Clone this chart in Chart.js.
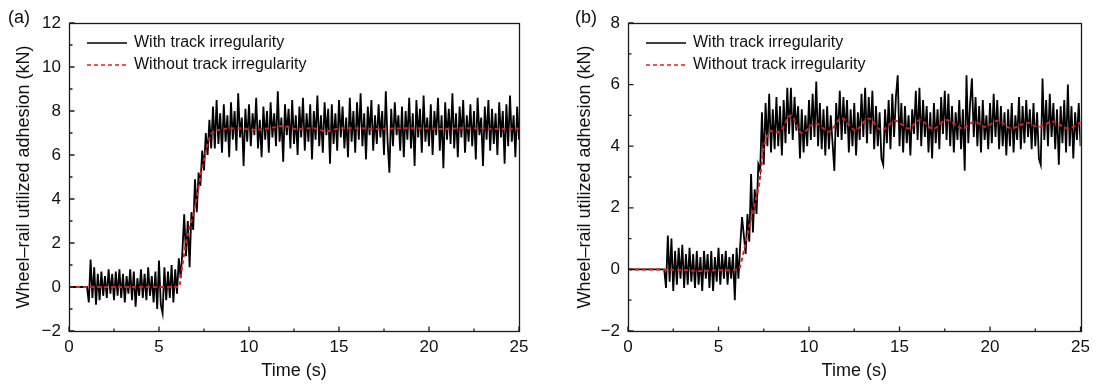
<!DOCTYPE html>
<html>
<head>
<meta charset="utf-8">
<script src="https://cdn.jsdelivr.net/npm/chart.js@4.4.1/dist/chart.umd.min.js"></script>
<style>
  body { margin: 0; background: #fff; }
  .wrap { position: absolute; top: 0; height: 385px; }
</style>
</head>
<body>
<div class="wrap" style="left:0;width:548px"><canvas id="chartA" width="548" height="385"></canvas></div>
<div class="wrap" style="left:559px;width:537px"><canvas id="chartB" width="537" height="385"></canvas></div>
<script>
// sampling step of the measured signals (s)
var tStep = 0.1;
var xTicks = [0, 5, 10, 15, 20, 25];
var seriesLabels = ['With track irregularity', 'Without track irregularity'];

// (a) with track irregularity, one value every 0.1 s from 0 to 25 s
var withIrrA = [
  0, 0, 0, 0, 0, 0, 0, 0, 0, 0, 0,
  -0.7, 1.25, -0.5, 0.9, -0.8, 0.6, -0.6, 0.7, -0.4, 0.5,
  -0.5, 0.8, -0.3, 0.6, -0.6, 0.7, -0.4, 0.8, -0.5, 0.6,
  -0.7, 0.5, -0.3, 0.8, -0.6, 0.7, -0.9, 0.4, -0.4, 0.8,
  -0.5, 0.6, -0.6, 0.9, -0.4, 0.5, -0.7, 0.7, -1.0, 1.2,
  -0.8, -1.2, 0.9, -0.6, 0.7, -0.5, 1.0, -0.7, 0.8, -0.3,
  1.3, 0.4, 1.6, 3.3, 1.4, 3.0, 0.9, 3.4, 2.6, 4.9,
  3.4, 5.2, 4.6, 6.2, 5.3, 7.0, 6.0, 7.6, 6.3, 8.2,
  6.3, 8.5, 6.5, 7.9, 6.1, 8.3, 6.6, 7.8, 5.9, 8.4,
  6.7, 8.0, 6.2, 8.8, 6.8, 7.7, 5.5, 8.1, 6.6, 8.3,
  6.4, 7.9, 6.9, 8.6, 6.3, 7.6, 5.9, 8.2, 6.7, 8.0,
  6.1, 8.4, 6.8, 7.9, 6.4, 8.9, 6.6, 7.7, 5.7, 8.3,
  6.9, 8.1, 6.3, 8.5, 6.5, 7.8, 6.0, 8.2, 6.8, 8.6,
  6.2, 7.9, 6.6, 8.3, 5.8, 8.0, 6.7, 8.7, 6.4, 7.8,
  6.1, 8.4, 6.9, 8.1, 5.6, 8.3, 6.5, 7.9, 6.2, 8.5,
  6.8, 8.2, 6.3, 7.7, 5.9, 8.6, 6.6, 8.0, 6.1, 8.4,
  6.7, 8.8, 6.4, 7.9, 5.8, 8.2, 6.9, 8.5, 6.2, 7.8,
  6.5, 8.3, 6.8, 8.0, 6.0, 8.9, 6.6, 5.2, 8.1, 6.4,
  8.4, 6.9, 7.8, 6.2, 8.2, 5.9, 8.0, 6.7, 8.6, 6.3,
  7.9, 5.5, 8.5, 6.8, 8.1, 6.1, 8.7, 6.6, 7.7, 6.4,
  8.3, 6.0, 8.0, 6.9, 8.6, 6.2, 7.8, 5.4, 8.4, 6.7,
  8.1, 6.5, 8.8, 6.3, 7.9, 5.9, 8.2, 6.8, 8.5, 6.1,
  7.8, 6.6, 8.3, 6.4, 8.0, 5.8, 8.6, 6.9, 7.7, 5.5,
  8.2, 6.7, 8.5, 6.2, 8.1, 6.5, 7.9, 6.0, 8.4, 6.8,
  8.0, 5.6, 8.3, 6.4, 8.7, 6.6, 7.8, 5.9, 8.2, 6.7
];

// (a) without track irregularity
var smoothTimeA = [0, 6.1, 6.3, 6.5, 6.7, 6.9, 7.1, 7.3, 7.5, 7.7, 7.9, 8.1, 8.4, 8.8, 9.5, 10.2, 11.0, 11.9, 12.6, 13.5, 14.3, 15.0, 16.0, 17.0, 18.0, 19.0, 20.0, 21.0, 22.0, 23.0, 24.0, 25.0];
var smoothValA = [0, 0, 1.0, 2.0, 2.7, 3.3, 4.1, 5.0, 5.8, 6.5, 6.95, 7.1, 7.15, 7.2, 7.22, 7.15, 7.2, 7.32, 7.18, 7.22, 7.08, 7.2, 7.22, 7.18, 7.2, 7.22, 7.2, 7.18, 7.22, 7.2, 7.18, 7.2];

// (b) with track irregularity, one value every 0.1 s from 0 to 25 s
var withIrrB = [
  0, 0, 0, 0, 0, 0, 0, 0, 0, 0, 0,
  0, 0, 0, 0, 0, 0, 0, 0, 0, 0,
  -0.6, 1.1, -0.4, 1.0, -0.7, 0.6, -0.5, 0.7, -0.3, 0.8,
  -0.6, 0.5, -0.5, 0.7, -0.4, 0.5, -0.6, 0.6, -0.5, 0.4,
  -0.7, 0.6, -0.3, 0.5, -0.6, 0.6, -0.7, 0.4, -0.4, 0.7,
  -0.5, 0.5, -0.3, 0.6, -0.5, 0.4, -0.3, 0.5, -1.0, 0.7,
  -0.3, 0.8, 1.7, 1.1, 0.5, 1.8, 0.9, 3.1, 1.2, 2.6,
  1.8, 3.4, 3.2, 5.1, 3.4, 5.4, 4.0, 5.7, 3.8, 5.2,
  3.9, 5.6, 4.0, 5.3, 3.7, 5.5, 4.1, 5.9, 4.4, 5.9,
  4.2, 5.6, 4.5, 5.3, 3.6, 5.2, 3.8, 5.0, 4.0, 5.5,
  4.2, 5.7, 4.3, 6.1, 4.0, 5.4, 3.9, 5.2, 3.7, 5.3,
  3.9, 5.0, 4.1, 3.2, 5.4, 4.3, 5.8, 4.2, 5.6, 4.4,
  5.5, 3.8, 5.2, 4.0, 5.4, 3.7, 5.1, 4.2, 5.7, 4.3,
  5.9, 4.1, 5.6, 4.4, 5.8, 3.9, 5.3, 4.0, 5.1, 3.6,
  3.4, 5.2, 4.1, 5.5, 3.9, 5.7, 4.3, 5.6, 6.3, 4.0,
  5.4, 3.8, 5.3, 4.1, 5.0, 3.7, 5.2, 4.4, 5.8, 4.2,
  5.9, 4.0, 5.5, 4.3, 5.3, 3.8, 5.1, 3.6, 5.4, 4.1,
  5.2, 3.9, 5.6, 4.4, 5.8, 4.2, 5.7, 4.0, 5.3, 3.8,
  5.1, 4.2, 5.5, 3.9, 5.2, 3.2, 6.3, 4.1, 5.4, 6.2,
  4.3, 5.6, 4.0, 5.3, 3.8, 5.5, 4.2, 5.0, 3.9, 5.4,
  4.1, 5.7, 4.3, 5.5, 3.9, 5.3, 4.0, 5.1, 3.7, 5.2,
  4.0, 5.4, 3.8, 5.0, 4.2, 5.6, 3.9, 5.3, 4.1, 5.5,
  4.3, 5.2, 3.9, 5.4, 4.0, 5.1, 3.6, 3.4, 6.2, 4.2,
  5.5, 4.0, 5.7, 4.3, 5.4, 3.9, 5.2, 3.4, 5.3, 4.1,
  5.5, 3.8, 6.0, 4.0, 5.3, 3.6, 5.1, 4.2, 5.4, 4.0
];

// (b) without track irregularity
var smoothTimeB = [0, 3.0, 4.0, 5.0, 6.1, 6.4, 6.7, 7.0, 7.25, 7.5, 7.7, 7.9, 8.2, 8.5, 8.98, 9.6, 10.36, 11.09, 11.8, 12.56, 13.29, 14.0, 14.76, 15.49, 16.13, 16.86, 17.59, 18.51, 19.15, 19.7, 20.43, 21.17, 22.09, 22.64, 23.46, 24.29, 25.0];
var smoothValB = [0, -0.02, -0.05, -0.03, 0, 0.6, 1.4, 2.1, 2.8, 3.95, 4.35, 4.5, 4.45, 4.55, 5.0, 4.43, 4.75, 4.47, 4.91, 4.52, 4.9, 4.52, 4.83, 4.58, 4.85, 4.56, 4.85, 4.58, 4.8, 4.63, 4.83, 4.58, 4.76, 4.62, 4.8, 4.58, 4.76];

var FONT = "'Liberation Sans', Arial, sans-serif";

function toPoints(values) {
  return values.map(function (v, i) { return { x: +(i * tStep).toFixed(1), y: v }; });
}
function pairPoints(times, values) {
  return times.map(function (t, i) { return { x: t, y: values[i] }; });
}

// frame, inward ticks, legend and panel letter
var frameTicks = {
  id: 'frameTicks',
  afterDraw: function (chart) {
    var ctx = chart.ctx, a = chart.chartArea;
    var xs = chart.scales.x, ys = chart.scales.y;
    var L = Math.round(a.left) + 0.5, R = Math.round(a.right) + 0.5;
    var T = Math.round(a.top) + 0.5, B = Math.round(a.bottom) + 0.5;
    ctx.save();
    ctx.strokeStyle = '#1a1a1a';
    ctx.lineWidth = 1.3;
    ctx.strokeRect(L, T, R - L, B - T);
    ctx.beginPath();
    xs.ticks.forEach(function (t, i) {
      var p = xs.getPixelForValue(t.value);
      ctx.moveTo(p, B); ctx.lineTo(p, B - 5);
      if (i < xs.ticks.length - 1) {
        var m = xs.getPixelForValue((t.value + xs.ticks[i + 1].value) / 2);
        ctx.moveTo(m, B); ctx.lineTo(m, B - 3);
      }
    });
    ys.ticks.forEach(function (t, i) {
      var p = ys.getPixelForValue(t.value);
      ctx.moveTo(L, p); ctx.lineTo(L + 5, p);
      if (i < ys.ticks.length - 1) {
        var m = ys.getPixelForValue((t.value + ys.ticks[i + 1].value) / 2);
        ctx.moveTo(L, m); ctx.lineTo(L + 3, m);
      }
    });
    ctx.stroke();

    // legend
    ctx.font = '16px ' + FONT;
    ctx.textBaseline = 'middle';
    ctx.textAlign = 'left';
    chart.data.datasets.forEach(function (ds, i) {
      var yy = a.top + 20 + i * 22;
      ctx.beginPath();
      ctx.strokeStyle = ds.borderColor;
      ctx.lineWidth = i === 0 ? 1.5 : 1.6;
      ctx.setLineDash(ds.borderDash || []);
      ctx.moveTo(a.left + 18, yy); ctx.lineTo(a.left + 58, yy);
      ctx.stroke();
      ctx.setLineDash([]);
      ctx.fillStyle = '#111';
      ctx.fillText(ds.label, a.left + 65, yy);
    });

    // panel letter
    var pl = chart.options.plugins.frameTicks;
    ctx.font = '18px ' + FONT;
    ctx.fillStyle = '#111';
    ctx.fillText(pl.letter, pl.letterX, 18.5);
    ctx.restore();
  }
};

function makeChart(id, blackVals, redT, redV, yMax, letter, letterX, titlePad, rightPad) {
  var ctx = document.getElementById(id);
  return new Chart(ctx, {
    type: 'line',
    data: {
      datasets: [
        {
          label: seriesLabels[0],
          data: toPoints(blackVals),
          borderColor: '#000',
          borderWidth: 1.8,
          pointRadius: 0,
          tension: 0,
          order: 2
        },
        {
          label: seriesLabels[1],
          data: pairPoints(redT, redV),
          borderColor: 'rgb(232,28,28)',
          borderWidth: 2,
          borderDash: [4, 3],
          pointRadius: 0,
          cubicInterpolationMode: 'monotone',
          order: 1
        }
      ]
    },
    options: {
      responsive: false,
      animation: false,
      events: [],
      layout: { padding: { top: 23, right: rightPad, left: 0, bottom: 0 } },
      plugins: {
        legend: { display: false },
        tooltip: { enabled: false },
        frameTicks: { letter: letter, letterX: letterX }
      },
      scales: {
        x: {
          type: 'linear',
          min: 0,
          max: 25,
          afterBuildTicks: function (s) { s.ticks = xTicks.map(function (v) { return { value: v }; }); },
          grid: { display: false, drawTicks: false },
          border: { display: false },
          ticks: { color: '#111', font: { size: 17, family: FONT }, padding: 6, maxRotation: 0 },
          title: { display: true, text: 'Time (s)', color: '#111', font: { size: 18, family: FONT }, padding: { top: 0, bottom: 3 } },
          afterFit: function (s) { s.height = 54; }
        },
        y: {
          min: -2,
          max: yMax,
          grid: { display: false, drawTicks: false },
          border: { display: false },
          ticks: {
            stepSize: 2,
            color: '#111',
            font: { size: 17, family: FONT },
            padding: 8,
            callback: function (v) { return v < 0 ? '\u2212' + Math.abs(v) : String(v); }
          },
          title: { display: true, text: 'Wheel\u2013rail utilized adhesion (kN)', color: '#111', font: { size: 18, family: FONT }, padding: titlePad },
          afterFit: function (s) { s.width = 69; }
        }
      }
    },
    plugins: [frameTicks]
  });
}

makeChart('chartA', withIrrA, smoothTimeA, smoothValA, 12, '(a)', 8, 13, 29);
makeChart('chartB', withIrrB, smoothTimeB, smoothValB, 8, '(b)', 16, 15, 13);
</script>
</body>
</html>
